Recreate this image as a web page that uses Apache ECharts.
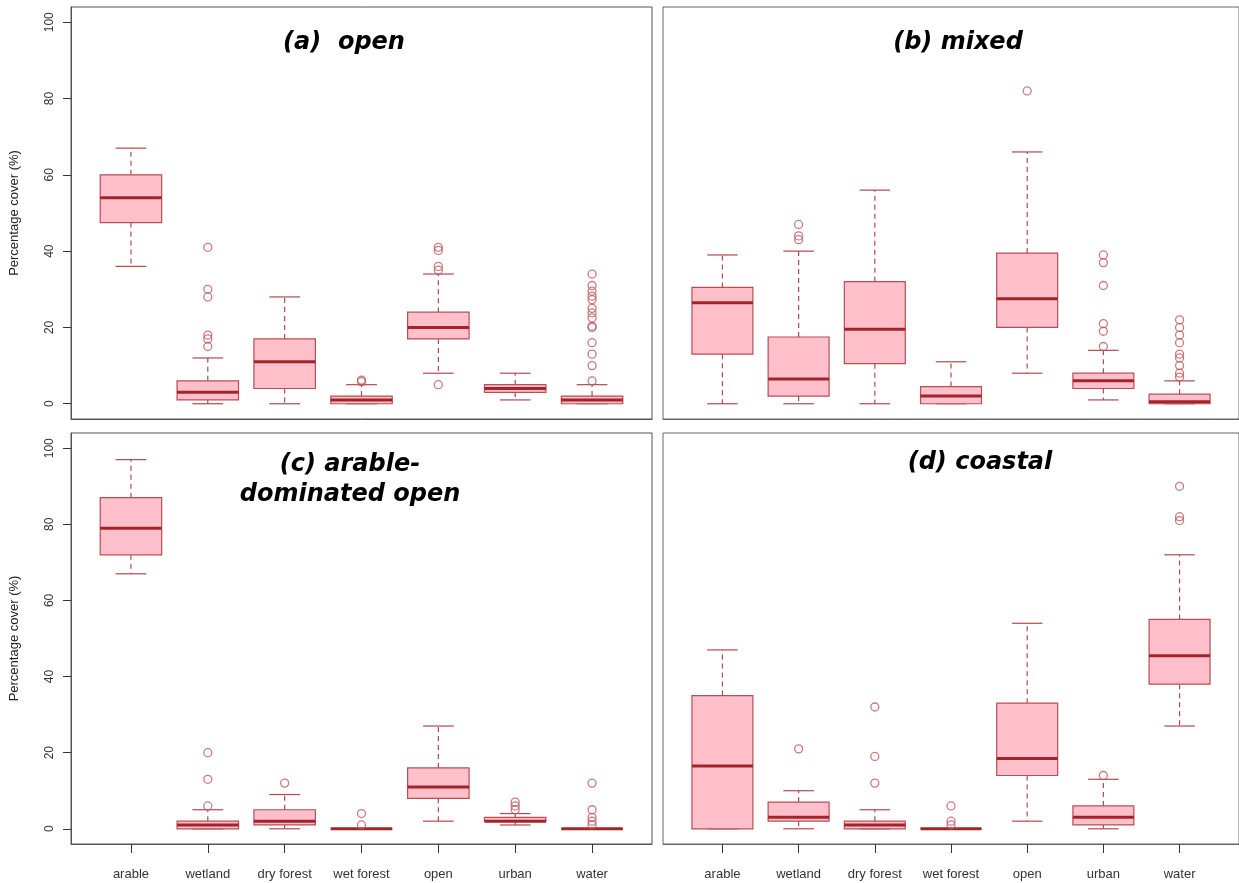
<!DOCTYPE html>
<html>
<head>
<meta charset="utf-8">
<script src="https://cdn.jsdelivr.net/npm/echarts@6/dist/echarts.min.js"></script>
<style>
  html, body { margin: 0; padding: 0; background: #ffffff; }
  #chart { width: 1239px; height: 883px; }
</style>
</head>
<body>
<div id="chart"></div>
<script>
// Land-cover classes on the x axis
const categories = ['arable', 'wetland', 'dry forest', 'wet forest', 'open', 'urban', 'water'];
const yTicks = [0, 20, 40, 60, 80, 100];
const panelTitles = ['(a)  open', '(b) mixed', '(c) arable-\ndominated open', '(d) coastal'];

// Box statistics per class: [lower whisker, Q1, median, Q3, upper whisker]
const openStats = [
  [36, 47.5, 54, 60, 67],
  [0, 1, 3, 6, 12],
  [0, 4, 11, 17, 28],
  [0, 0, 1, 2, 5],
  [8, 17, 20, 24, 34],
  [1, 3, 4, 5, 8],
  [0, 0, 1, 2, 5]
];
const openOutliers = [
  [],
  [15, 17, 18, 28, 30, 41],
  [],
  [5.8, 6.2],
  [5, 35, 36, 40.2, 41],
  [],
  [6, 10, 13, 16, 20, 20.3, 22.5, 23.8, 25, 27.3, 28.2, 29.5, 31, 34]
];

const mixedStats = [
  [0, 13, 26.5, 30.5, 39],
  [0, 2, 6.5, 17.5, 40],
  [0, 10.5, 19.5, 32, 56],
  [0, 0, 2, 4.5, 11],
  [8, 20, 27.5, 39.5, 66],
  [1, 4, 6, 8, 14],
  [0, 0, 0.5, 2.5, 6]
];
const mixedOutliers = [
  [],
  [43, 44, 47],
  [],
  [],
  [82],
  [15, 19, 21, 31, 37, 39],
  [7, 8, 10, 12, 13, 16, 18, 20, 22]
];

const arableStats = [
  [67, 72, 79, 87, 97],
  [0, 0, 1, 2, 5],
  [0, 1, 2, 5, 9],
  [0, 0, 0, 0, 0],
  [2, 8, 11, 16, 27],
  [1, 2, 2, 3, 4],
  [0, 0, 0, 0, 0]
];
const arableOutliers = [
  [],
  [6, 13, 20],
  [12],
  [1, 4],
  [],
  [5, 6, 7],
  [1, 2, 3, 5, 12]
];

const coastalStats = [
  [0, 0, 16.5, 35, 47],
  [0, 2, 3, 7, 10],
  [0, 0, 1, 2, 5],
  [0, 0, 0, 0, 0],
  [2, 14, 18.5, 33, 54],
  [0, 1, 3, 6, 13],
  [27, 38, 45.5, 55, 72]
];
const coastalOutliers = [
  [],
  [21],
  [12, 19, 32],
  [1, 2, 6],
  [],
  [14],
  [81, 82, 90]
];

const panelStats = [openStats, mixedStats, arableStats, coastalStats];
const panelOutliers = [openOutliers, mixedOutliers, arableOutliers, coastalOutliers];

// Styling
const BOX_FILL = '#ffc0cb';
const BOX_LINE = '#b84d56';
const MEDIAN_LINE = '#a3232a';
const WHISKER_LINE = '#b5474f';
const OUTLIER_LINE = '#c0575f';
const FRAME = '#555555';
const BOX_WEX = 0.8;

// Panel frames (plot regions)
const gridBoxes = [
  { left: 71, top: 7, width: 581, height: 412 },
  { left: 663, top: 7, width: 581, height: 412 },
  { left: 71, top: 433, width: 581, height: 411 },
  { left: 663, top: 433, width: 581, height: 411 }
];
const frameColors = ['#555555', '#666666', '#555555', '#666666'];
const titleAnchors = [[344, 43], [958, 43], [350, 480], [980, 463]];

function renderBox(params, api) {
  const x = api.value(0);
  const lo = api.value(1), q1 = api.value(2), med = api.value(3), q3 = api.value(4), hi = api.value(5);
  const half = api.size([BOX_WEX, 0])[0] / 2;
  const capHalf = half / 2;
  const pLo = api.coord([x, lo]);
  const pQ1 = api.coord([x, q1]);
  const pMed = api.coord([x, med]);
  const pQ3 = api.coord([x, q3]);
  const pHi = api.coord([x, hi]);
  const cx = pMed[0];
  const whiskerStyle = { stroke: WHISKER_LINE, lineWidth: 1.2, lineDash: [5, 4] };
  const capStyle = { stroke: WHISKER_LINE, lineWidth: 1.2 };
  return {
    type: 'group',
    children: [
      { type: 'line', shape: { x1: cx, y1: pQ3[1], x2: cx, y2: pHi[1] }, style: whiskerStyle },
      { type: 'line', shape: { x1: cx, y1: pQ1[1], x2: cx, y2: pLo[1] }, style: whiskerStyle },
      { type: 'line', shape: { x1: cx - capHalf, y1: pHi[1], x2: cx + capHalf, y2: pHi[1] }, style: capStyle },
      { type: 'line', shape: { x1: cx - capHalf, y1: pLo[1], x2: cx + capHalf, y2: pLo[1] }, style: capStyle },
      {
        type: 'rect',
        shape: { x: cx - half, y: pQ3[1], width: half * 2, height: pQ1[1] - pQ3[1] },
        style: { fill: BOX_FILL, stroke: BOX_LINE, lineWidth: 1.2 }
      },
      { type: 'line', shape: { x1: cx - half, y1: pMed[1], x2: cx + half, y2: pMed[1] }, style: { stroke: MEDIAN_LINE, lineWidth: 3 } }
    ]
  };
}

const grids = [], xAxes = [], yAxes = [], series = [], graphics = [];

gridBoxes.forEach(function (g, i) {
  const isLeft = (i % 2 === 0);
  const isBottom = (i >= 2);
  grids.push(Object.assign({ show: true, borderColor: frameColors[i], borderWidth: 1, backgroundColor: 'transparent' }, g));

  xAxes.push({
    type: 'value', gridIndex: i, min: 0.22, max: 7.78,
    splitLine: { show: false },
    axisLine: { show: true, onZero: false, lineStyle: { color: frameColors[i] } },
    axisTick: { show: isBottom, customValues: categories.map(function (c, k) { return k + 1; }), length: 9, lineStyle: { color: '#333' } },
    axisLabel: {
      show: isBottom,
      customValues: categories.map(function (c, k) { return k + 1; }),
      formatter: function (v) { return categories[Math.round(v) - 1] || ''; },
      margin: 24, fontSize: 13, color: '#333', fontFamily: 'Liberation Sans'
    }
  });

  yAxes.push({
    type: 'value', gridIndex: i, min: -4, max: 104,
    show: isLeft,
    splitLine: { show: false },
    axisLine: { show: true, onZero: false, lineStyle: { color: frameColors[i] } },
    axisTick: { show: true, customValues: yTicks, length: 8, lineStyle: { color: '#333' } },
    axisLabel: { customValues: yTicks, rotate: 90, margin: 15, fontSize: 12, color: '#333', fontFamily: 'Liberation Sans' },
    name: 'Percentage cover (%)',
    nameLocation: 'middle',
    nameGap: 50,
    nameTextStyle: { fontSize: 13, color: '#222', fontFamily: 'Liberation Sans' }
  });

  series.push({
    type: 'custom', xAxisIndex: i, yAxisIndex: i,
    renderItem: renderBox,
    encode: { x: 0, y: [1, 2, 3, 4, 5] },
    data: panelStats[i].map(function (s, k) { return [k + 1].concat(s); }),
    silent: true, z: 2
  });

  const pts = [];
  panelOutliers[i].forEach(function (arr, k) {
    arr.forEach(function (v) { pts.push([k + 1, v]); });
  });
  series.push({
    type: 'scatter', xAxisIndex: i, yAxisIndex: i,
    symbol: 'circle', symbolSize: 8,
    itemStyle: { color: 'transparent', borderColor: OUTLIER_LINE, borderWidth: 1.3 },
    data: pts, silent: true, z: 3
  });

  graphics.push({
    type: 'text',
    x: titleAnchors[i][0], y: titleAnchors[i][1],
    style: {
      text: panelTitles[i],
      align: 'center', verticalAlign: 'middle',
      font: 'italic bold 24px "DejaVu Sans"',
      lineHeight: 30,
      fill: '#000'
    },
    z: 10
  });
});

const chart = echarts.init(document.getElementById('chart'), null, { renderer: 'canvas' });
chart.setOption({
  animation: false,
  backgroundColor: '#ffffff',
  grid: grids,
  xAxis: xAxes,
  yAxis: yAxes,
  series: series,
  graphic: graphics
});
</script>
</body>
</html>
